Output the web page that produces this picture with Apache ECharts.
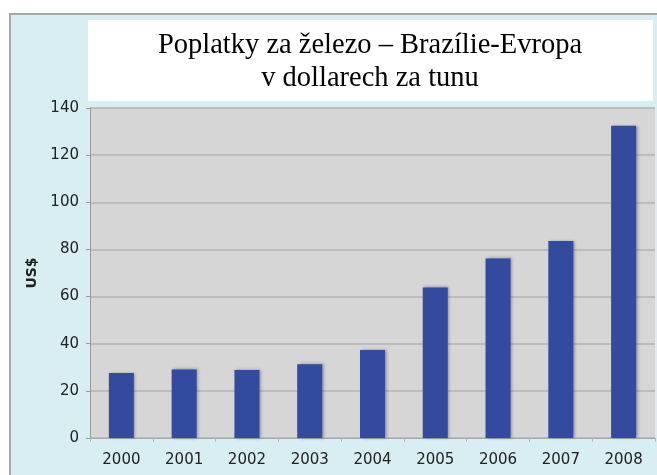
<!DOCTYPE html>
<html>
<head>
<meta charset="utf-8">
<script src="https://cdn.jsdelivr.net/npm/echarts@6/dist/echarts.min.js"></script>
<style>html,body{margin:0;padding:0;background:#fff}#c{width:657px;height:475px}</style>
</head>
<body>
<div id="c"></div>
<script>
const years = ['2000','2001','2002','2003','2004','2005','2006','2007','2008'];
const fees = [27.6, 29.1, 28.8, 31.3, 37.3, 63.9, 76.2, 83.6, 132.5];
const yTicks = {min: 0, max: 140, interval: 20};
const titleLines = ['Poplatky za železo – Brazílie-Evropa', 'v dollarech za tunu'];
const yName = 'US$';

const chart = echarts.init(document.getElementById('c'), null, {renderer: 'canvas'});
chart.setOption({
  backgroundColor: '#ffffff',
  animation: false,
  graphic: [
    {type: 'rect', z: -10, shape: {x: 10, y: 14, width: 660, height: 480},
     style: {fill: '#d8eef3', stroke: '#a8a8a8', lineWidth: 2}},
    {type: 'rect', z: -5, shape: {x: 88, y: 20, width: 565, height: 81},
     style: {fill: '#ffffff'}}
  ],
  title: {
    text: titleLines.join('\n'),
    left: 370, top: 29, textAlign: 'center', padding: 0,
    textStyle: {fontFamily: 'Liberation Serif', fontSize: 28.5, fontWeight: 'normal', color: '#000', lineHeight: 33}
  },
  grid: {left: 90, top: 108, right: 2, bottom: 37, show: true, backgroundColor: '#d6d6d6', borderWidth: 0},
  xAxis: {
    type: 'category', data: years,
    axisLine: {show: true, lineStyle: {color: '#a9a9a9', width: 1}},
    axisTick: {show: true, length: 4, lineStyle: {color: '#b0b8ba'}},
    axisLabel: {margin: 15, fontFamily: 'DejaVu Sans', fontSize: 15, color: '#222'}
  },
  yAxis: {
    type: 'value', min: yTicks.min, max: yTicks.max, interval: yTicks.interval,
    name: yName, nameLocation: 'middle', nameGap: 48, nameRotate: 90,
    nameTextStyle: {fontFamily: 'DejaVu Sans', fontSize: 14, fontWeight: 'bold', color: '#222'},
    axisLine: {show: true, lineStyle: {color: '#9a9a9a', width: 1}},
    axisTick: {show: true, length: 4, lineStyle: {color: '#9a9a9a'}},
    axisLabel: {margin: 11, fontFamily: 'DejaVu Sans', fontSize: 15, color: '#222'},
    splitLine: {show: true, lineStyle: {color: '#b3b3b3', width: 1.5}}
  },
  series: [{
    type: 'bar', data: fees, barWidth: 25,
    itemStyle: {color: '#344a9e', shadowColor: 'rgba(40,40,90,0.45)', shadowBlur: 3, shadowOffsetX: 1.5, shadowOffsetY: 0}
  }]
});
</script>
</body>
</html>
